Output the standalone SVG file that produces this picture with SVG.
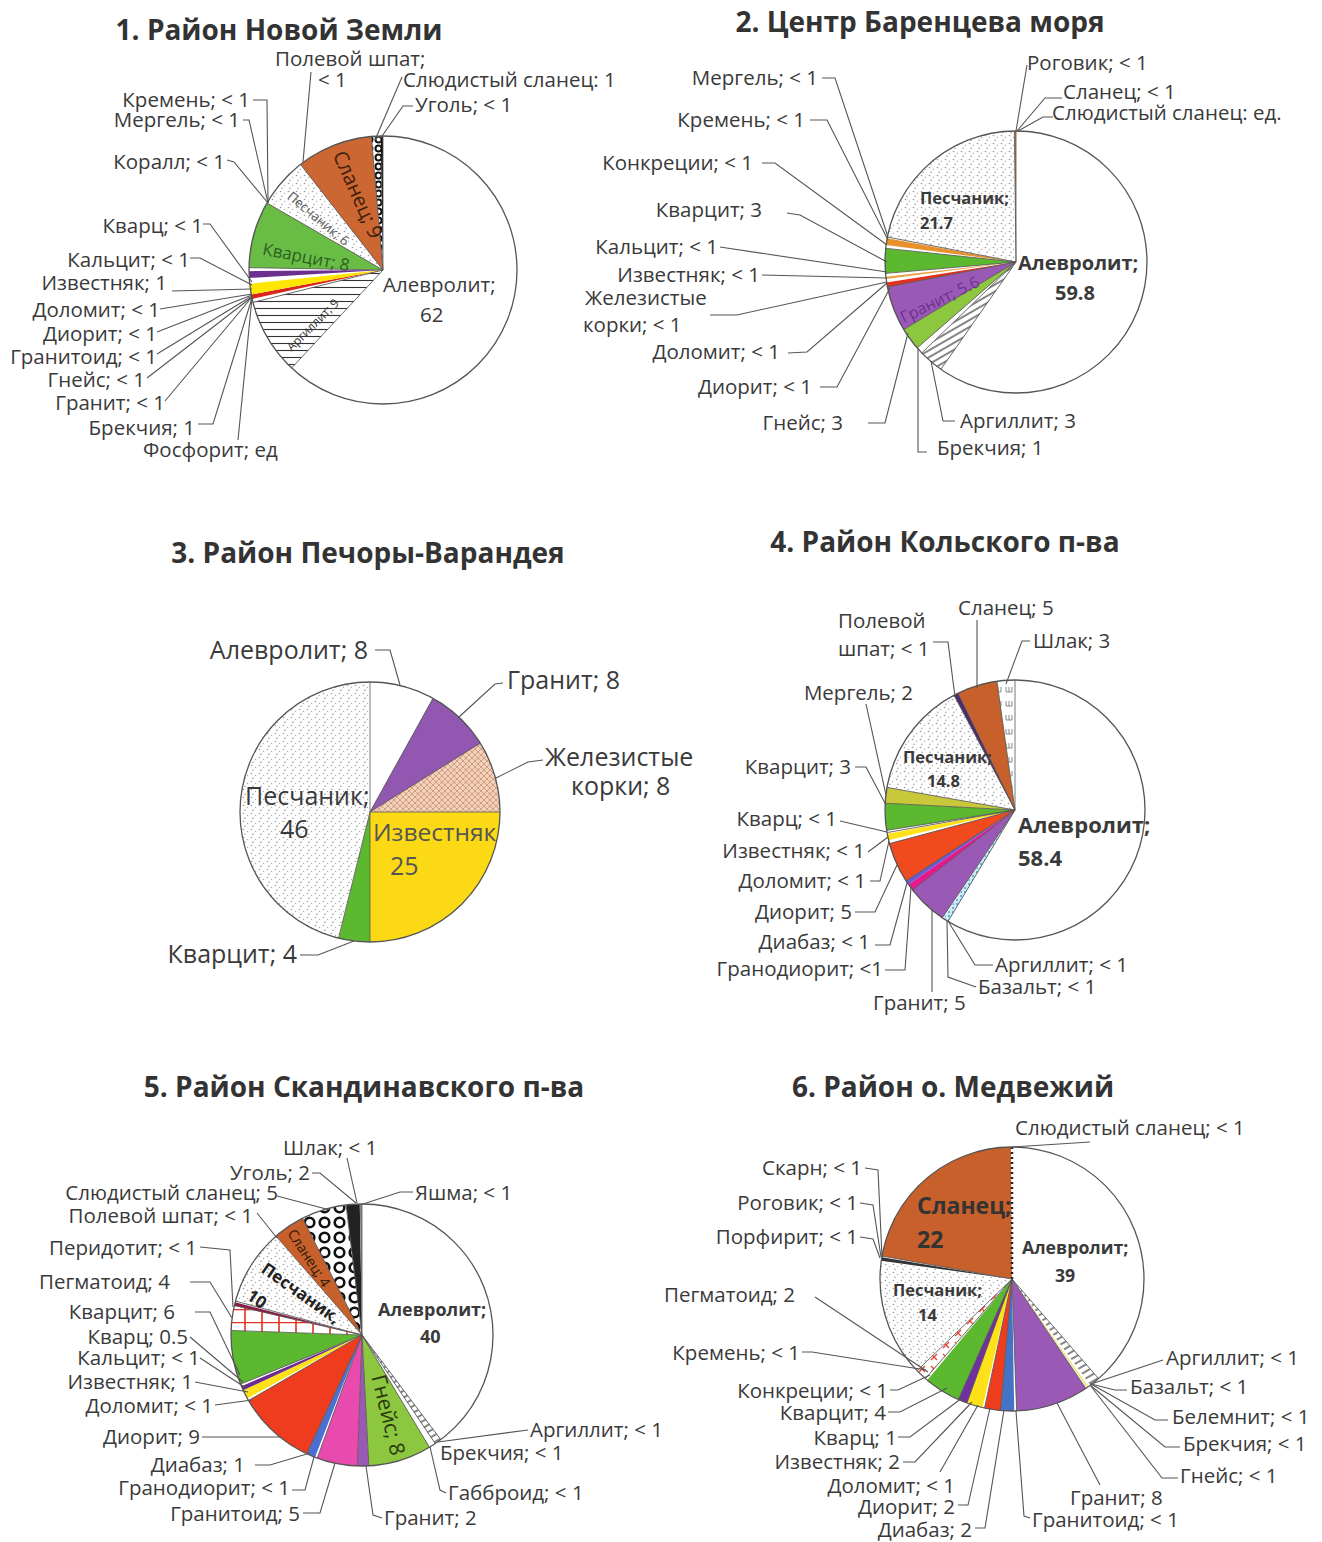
<svg xmlns="http://www.w3.org/2000/svg" width="1322" height="1542" viewBox="0 0 1322 1542">
<defs>
<style>
.t{font-family:"Open Sans","Noto Sans","DejaVu Sans",sans-serif;font-size:20.5px;fill:#3a3a3a}
.e{text-anchor:end}
.m{text-anchor:middle}
.b{font-weight:bold}
.ttl{font-family:"Open Sans","Noto Sans","DejaVu Sans",sans-serif;font-weight:bold;font-size:28px;text-anchor:middle;fill:#333}
.ld{fill:none;stroke:#555;stroke-width:1.1}
.rad{stroke:#555;stroke-width:0.8}
.ol{fill:none;stroke:#555;stroke-width:1.3}
.s{fill:none}
</style>
<pattern id="dots" width="8" height="8" patternUnits="userSpaceOnUse">
<rect width="8" height="8" fill="#fff"/>
<circle cx="1.5" cy="1.5" r="0.8" fill="#9a9a9a"/>
<circle cx="5.5" cy="3.5" r="0.7" fill="#aaa"/>
<circle cx="3" cy="6.3" r="0.8" fill="#999"/>
</pattern>
<pattern id="hatchH" width="6" height="7" patternUnits="userSpaceOnUse">
<rect width="6" height="7" fill="#fff"/>
<line x1="0" y1="3.5" x2="6" y2="3.5" stroke="#333" stroke-width="1.1"/>
</pattern>
<pattern id="hatchD" width="6" height="6" patternUnits="userSpaceOnUse" patternTransform="rotate(-30)">
<rect width="6" height="6" fill="#fff"/>
<line x1="0" y1="3" x2="6" y2="3" stroke="#333" stroke-width="1.2"/>
</pattern>
<pattern id="rings1" width="9" height="9" patternUnits="userSpaceOnUse">
<rect width="9" height="9" fill="#fff"/>
<circle cx="4.5" cy="4.5" r="3" fill="none" stroke="#111" stroke-width="2"/>
</pattern>
<pattern id="rings5" width="15" height="15" patternUnits="userSpaceOnUse">
<rect width="15" height="15" fill="#fff"/>
<circle cx="7.5" cy="7.5" r="4.8" fill="none" stroke="#111" stroke-width="2.6"/>
</pattern>
<pattern id="fe" width="6" height="6" patternUnits="userSpaceOnUse">
<rect width="6" height="6" fill="#f3d2bd"/>
<path d="M0 0 L6 6 M6 0 L0 6" stroke="#c98f6c" stroke-width="0.8"/>
</pattern>
<pattern id="grid" width="17" height="13" patternUnits="userSpaceOnUse">
<rect width="17" height="13" fill="#fff"/>
<path d="M0 0.5 H17 M2 0 V13" stroke="#e0301e" stroke-width="1.6" fill="none"/>
</pattern>
<pattern id="redx" width="12" height="12" patternUnits="userSpaceOnUse">
<rect width="12" height="12" fill="#fff"/>
<path d="M3 3 L9 9 M9 3 L3 9" stroke="#e8402a" stroke-width="1.3"/>
</pattern>
<pattern id="sh" width="11" height="14" patternUnits="userSpaceOnUse">
<rect width="11" height="14" fill="#fff"/>
<path d="M2 3 V8 H8 V3 M5 3 V8" stroke="#8a8a8a" stroke-width="1" fill="none"/>
</pattern>
<pattern id="ltblue" width="4" height="4" patternUnits="userSpaceOnUse">
<rect width="4" height="4" fill="#cfeaf5"/>
<circle cx="2" cy="2" r="1" fill="#3aa0d0"/>
</pattern>
</defs>
<rect width="1322" height="1542" fill="#fff"/>

<!-- Chart 1 -->
<g id="chart1">
<text class="ttl" x="279" y="40">1. Район Новой Земли</text>
<g transform="translate(383,270)">
<circle r="134" fill="#fff"/>
<circle class="s" r="67" pathLength="360" stroke="url(#hatchH)" stroke-width="134" stroke-dasharray="33 327" stroke-dashoffset="-133"/>
<circle class="s" r="67" pathLength="360" stroke="#d9261c" stroke-width="134" stroke-dasharray="2 358" stroke-dashoffset="-167.5"/>
<circle class="s" r="67" pathLength="360" stroke="#ffe600" stroke-width="134" stroke-dasharray="4.5 355.5" stroke-dashoffset="-169.5"/>
<circle class="s" r="67" pathLength="360" stroke="#6b2f8f" stroke-width="134" stroke-dasharray="3 357" stroke-dashoffset="-176.5"/>
<circle class="s" r="67" pathLength="360" stroke="#69bd45" stroke-width="134" stroke-dasharray="29 331" stroke-dashoffset="-181"/>
<circle class="s" r="67" pathLength="360" stroke="url(#dots)" stroke-width="134" stroke-dasharray="21 339" stroke-dashoffset="-211"/>
<circle class="s" r="67" pathLength="360" stroke="#cc6633" stroke-width="134" stroke-dasharray="33 327" stroke-dashoffset="-232"/>
<circle class="s" r="67" pathLength="360" stroke="url(#rings1)" stroke-width="134" stroke-dasharray="4 356" stroke-dashoffset="-265"/>
<circle class="s" r="67" pathLength="360" stroke="#111" stroke-width="134" stroke-dasharray="1 359" stroke-dashoffset="-269"/>
<line class="rad" y2="-134"/>
<line class="rad" y2="-134" transform="rotate(223)"/>
<line class="rad" y2="-134" transform="rotate(256)"/>
<line class="rad" y2="-134" transform="rotate(271)"/>
<line class="rad" y2="-134" transform="rotate(300)"/>
<line class="rad" y2="-134" transform="rotate(322)"/>
<line class="rad" y2="-134" transform="rotate(355)"/>
<circle class="ol" r="134"/>
</g>
<text class="t m" style="font-size:20px;fill:#3d1e0a" transform="translate(357,195) rotate(66)" y="6">Сланец; 9</text>
<text class="t m" style="font-size:13px;fill:#555" transform="translate(318,219) rotate(40)" y="4">Песчаник; 6</text>
<text class="t m" style="font-size:17px;fill:#2e5e22" transform="translate(306,258) rotate(11)" y="5">Кварцит; 8</text>
<text class="t m" style="font-size:12px;fill:#333" transform="translate(313,325) rotate(-45)" y="4">Аргиллит; 9</text>
<text class="t" x="383" y="292">Алевролит;</text>
<text class="t" x="420" y="322">62</text>
<text class="t e" x="250" y="107">Кремень; &lt; 1</text>
<text class="t e" x="240" y="127">Мергель; &lt; 1</text>
<text class="t e" x="225" y="169">Коралл; &lt; 1</text>
<text class="t e" x="203" y="233">Кварц; &lt; 1</text>
<text class="t e" x="190" y="267">Кальцит; &lt; 1</text>
<text class="t e" x="167" y="290">Известняк; 1</text>
<text class="t e" x="160" y="317">Доломит; &lt; 1</text>
<text class="t e" x="157" y="341">Диорит; &lt; 1</text>
<text class="t e" x="157" y="364">Гранитоид; &lt; 1</text>
<text class="t e" x="145" y="387">Гнейс; &lt; 1</text>
<text class="t e" x="165" y="410">Гранит; &lt; 1</text>
<text class="t e" x="195" y="435">Брекчия; 1</text>
<text class="t" x="143" y="457">Фосфорит; ед</text>
<text class="t" x="275" y="66">Полевой шпат;</text>
<text class="t" x="318" y="87">&lt; 1</text>
<text class="t" x="403" y="87">Слюдистый сланец: 1</text>
<text class="t" x="415" y="112">Уголь; &lt; 1</text>
</g>

<!-- Chart 2 -->
<g id="chart2">
<text class="ttl" x="920" y="32">2. Центр Баренцева моря</text>
<g transform="translate(1016,262)">
<circle r="131" fill="#fff"/>
<circle class="s" r="65.5" pathLength="360" stroke="url(#hatchD)" stroke-width="131" stroke-dasharray="11 349" stroke-dashoffset="-125"/>
<circle class="s" r="65.5" pathLength="360" stroke="#8dc63f" stroke-width="131" stroke-dasharray="10 350" stroke-dashoffset="-139"/>
<circle class="s" r="65.5" pathLength="360" stroke="#9b59b6" stroke-width="131" stroke-dasharray="20 340" stroke-dashoffset="-149"/>
<circle class="s" r="65.5" pathLength="360" stroke="#e0301e" stroke-width="131" stroke-dasharray="2 358" stroke-dashoffset="-169"/>
<circle class="s" r="65.5" pathLength="360" stroke="#e8a040" stroke-width="131" stroke-dasharray="1 359" stroke-dashoffset="-172.5"/>
<circle class="s" r="65.5" pathLength="360" stroke="#5cb82e" stroke-width="131" stroke-dasharray="11 349" stroke-dashoffset="-175"/>
<circle class="s" r="65.5" pathLength="360" stroke="#e8912a" stroke-width="131" stroke-dasharray="3 357" stroke-dashoffset="-187.5"/>
<circle class="s" r="65.5" pathLength="360" stroke="url(#dots)" stroke-width="131" stroke-dasharray="78.3 281.7" stroke-dashoffset="-191"/>
<circle class="s" r="65.5" pathLength="360" stroke="#c87030" stroke-width="131" stroke-dasharray="0.7 359.3" stroke-dashoffset="-269.3"/>
<line class="rad" y2="-131"/>
<line class="rad" y2="-131" transform="rotate(215)"/>
<line class="rad" y2="-131" transform="rotate(226)"/>
<line class="rad" y2="-131" transform="rotate(229)"/>
<line class="rad" y2="-131" transform="rotate(239)"/>
<line class="rad" y2="-131" transform="rotate(259)"/>
<line class="rad" y2="-131" transform="rotate(265)"/>
<line class="rad" y2="-131" transform="rotate(276)"/>
<line class="rad" y2="-131" transform="rotate(281)"/>
<line class="rad" y2="-131" transform="rotate(359.3)"/>
<circle class="ol" r="131"/>
</g>
<text class="t b" style="font-size:16.5px" x="920" y="204">Песчаник;</text>
<text class="t b" style="font-size:16.5px" x="920" y="229">21.7</text>
<text class="t b" style="font-size:20px" x="1018" y="270">Алевролит;</text>
<text class="t b" style="font-size:20px" x="1055" y="300">59.8</text>
<text class="t m" style="font-size:16px;fill:#6a3290" transform="translate(940,300) rotate(-26)" y="5">Гранит; 5.6</text>
<text class="t e" x="818" y="85">Мергель; &lt; 1</text>
<text class="t e" x="805" y="127">Кремень; &lt; 1</text>
<text class="t e" x="753" y="170">Конкреции; &lt; 1</text>
<text class="t e" x="762" y="217">Кварцит; 3</text>
<text class="t e" x="718" y="254">Кальцит; &lt; 1</text>
<text class="t e" x="760" y="282">Известняк; &lt; 1</text>
<text class="t" x="585" y="305">Железистые</text>
<text class="t" x="583" y="332">корки; &lt; 1</text>
<text class="t e" x="780" y="359">Доломит; &lt; 1</text>
<text class="t e" x="812" y="394">Диорит; &lt; 1</text>
<text class="t e" x="843" y="430">Гнейс; 3</text>
<text class="t" x="937" y="455">Брекчия; 1</text>
<text class="t" x="960" y="428">Аргиллит; 3</text>
<text class="t" x="1027" y="70">Роговик; &lt; 1</text>
<text class="t" x="1063" y="99">Сланец; &lt; 1</text>
<text class="t" x="1052" y="120">Слюдистый сланец: ед.</text>
</g>

<!-- Chart 3 -->
<g id="chart3">
<text class="ttl" x="368" y="563">3. Район Печоры-Варандея</text>
<g transform="translate(370,812)">
<circle r="130" fill="#fff"/>
<circle class="s" r="65" pathLength="360" stroke="#9257b0" stroke-width="130" stroke-dasharray="29 331" stroke-dashoffset="61"/>
<circle class="s" r="65" pathLength="360" stroke="url(#fe)" stroke-width="130" stroke-dasharray="32 328" stroke-dashoffset="32"/>
<circle class="s" r="65" pathLength="360" stroke="#fbd914" stroke-width="130" stroke-dasharray="90 270" stroke-dashoffset="0"/>
<circle class="s" r="65" pathLength="360" stroke="#5cb82e" stroke-width="130" stroke-dasharray="14 346" stroke-dashoffset="-90"/>
<circle class="s" r="65" pathLength="360" stroke="url(#dots)" stroke-width="130" stroke-dasharray="166 194" stroke-dashoffset="-104"/>
<line class="rad" y2="-130"/>
<line class="rad" y2="-130" transform="rotate(29)"/>
<line class="rad" y2="-130" transform="rotate(58)"/>
<line class="rad" y2="-130" transform="rotate(90)"/>
<line class="rad" y2="-130" transform="rotate(180)"/>
<line class="rad" y2="-130" transform="rotate(194)"/>
<circle class="ol" r="130"/>
</g>
<text class="t" style="font-size:25px" x="245" y="805">Песчаник;</text>
<text class="t" style="font-size:25px" x="280" y="838">46</text>
<text class="t" style="font-size:24.5px;fill:#555" x="373" y="841">Известняк</text>
<text class="t" style="font-size:25px;fill:#555" x="390" y="875">25</text>
<text class="t e" style="font-size:25px" x="368" y="659">Алевролит; 8</text>
<text class="t" style="font-size:25px" x="507" y="689">Гранит; 8</text>
<text class="t" style="font-size:25px" x="545" y="766">Железистые</text>
<text class="t" style="font-size:25px" x="571" y="795">корки; 8</text>
<text class="t e" style="font-size:25px" x="297" y="963">Кварцит; 4</text>
</g>

<!-- Chart 4 -->
<g id="chart4">
<text class="ttl" x="945" y="552">4. Район Кольского п-ва</text>
<g transform="translate(1015,810)">
<circle r="130" fill="#fff"/>
<circle class="s" r="65" pathLength="360" stroke="url(#ltblue)" stroke-width="130" stroke-dasharray="2.5 357.5" stroke-dashoffset="-121"/>
<circle class="s" r="65" pathLength="360" stroke="#9b59b6" stroke-width="130" stroke-dasharray="18 342" stroke-dashoffset="-124"/>
<circle class="s" r="65" pathLength="360" stroke="#e6198c" stroke-width="130" stroke-dasharray="3 357" stroke-dashoffset="-142"/>
<circle class="s" r="65" pathLength="360" stroke="#6a5acd" stroke-width="130" stroke-dasharray="2 358" stroke-dashoffset="-145"/>
<circle class="s" r="65" pathLength="360" stroke="#f04a1e" stroke-width="130" stroke-dasharray="18 342" stroke-dashoffset="-147"/>
<circle class="s" r="65" pathLength="360" stroke="#ffe11a" stroke-width="130" stroke-dasharray="3 357" stroke-dashoffset="-166.5"/>
<circle class="s" r="65" pathLength="360" stroke="#5cb82e" stroke-width="130" stroke-dasharray="12 348" stroke-dashoffset="-171"/>
<circle class="s" r="65" pathLength="360" stroke="#c9c83a" stroke-width="130" stroke-dasharray="7 353" stroke-dashoffset="-183"/>
<circle class="s" r="65" pathLength="360" stroke="url(#dots)" stroke-width="130" stroke-dasharray="52 308" stroke-dashoffset="-190"/>
<circle class="s" r="65" pathLength="360" stroke="#4b2a6b" stroke-width="130" stroke-dasharray="2 358" stroke-dashoffset="-242"/>
<circle class="s" r="65" pathLength="360" stroke="#c8602b" stroke-width="130" stroke-dasharray="18 342" stroke-dashoffset="-244"/>
<circle class="s" r="65" pathLength="360" stroke="url(#sh)" stroke-width="130" stroke-dasharray="8 352" stroke-dashoffset="-262"/>
<line class="rad" y2="-130"/>
<line class="rad" y2="-130" transform="rotate(211)"/>
<line class="rad" y2="-130" transform="rotate(214)"/>
<line class="rad" y2="-130" transform="rotate(232)"/>
<line class="rad" y2="-130" transform="rotate(237)"/>
<line class="rad" y2="-130" transform="rotate(255)"/>
<line class="rad" y2="-130" transform="rotate(260)"/>
<line class="rad" y2="-130" transform="rotate(261)"/>
<line class="rad" y2="-130" transform="rotate(273)"/>
<line class="rad" y2="-130" transform="rotate(280)"/>
<line class="rad" y2="-130" transform="rotate(332)"/>
<line class="rad" y2="-130" transform="rotate(334)"/>
<line class="rad" y2="-130" transform="rotate(352)"/>
<circle class="ol" r="130"/>
</g>
<text class="t b" style="font-size:16.5px" x="903" y="763">Песчаник;</text>
<text class="t b" style="font-size:16.5px" x="927" y="787">14.8</text>
<text class="t b" style="font-size:22px" x="1018" y="833">Алевролит;</text>
<text class="t b" style="font-size:22px" x="1018" y="866">58.4</text>
<text class="t" x="958" y="615">Сланец; 5</text>
<text class="t" x="838" y="628">Полевой</text>
<text class="t" x="838" y="656">шпат; &lt; 1</text>
<text class="t" x="1033" y="648">Шлак; 3</text>
<text class="t e" x="913" y="700">Мергель; 2</text>
<text class="t e" x="851" y="774">Кварцит; 3</text>
<text class="t e" x="837" y="826">Кварц; &lt; 1</text>
<text class="t e" x="865" y="858">Известняк; &lt; 1</text>
<text class="t e" x="866" y="888">Доломит; &lt; 1</text>
<text class="t e" x="852" y="919">Диорит; 5</text>
<text class="t e" x="870" y="949">Диабаз; &lt; 1</text>
<text class="t e" x="883" y="976">Гранодиорит; &lt;1</text>
<text class="t" x="873" y="1010">Гранит; 5</text>
<text class="t" x="995" y="972">Аргиллит; &lt; 1</text>
<text class="t" x="978" y="994">Базальт; &lt; 1</text>
</g>

<!-- Chart 5 -->
<g id="chart5">
<text class="ttl" x="364" y="1097">5. Район Скандинавского п-ва</text>
<g transform="translate(362,1335)">
<circle r="131" fill="#fff"/>
<circle class="s" r="65.5" pathLength="360" stroke="url(#hatchD)" stroke-width="131" stroke-dasharray="3 357" stroke-dashoffset="-53"/>
<circle class="s" r="65.5" pathLength="360" stroke="#8dc63f" stroke-width="131" stroke-dasharray="28 332" stroke-dashoffset="-59"/>
<circle class="s" r="65.5" pathLength="360" stroke="#9b59b6" stroke-width="131" stroke-dasharray="5 355" stroke-dashoffset="-87"/>
<circle class="s" r="65.5" pathLength="360" stroke="#e84aad" stroke-width="131" stroke-dasharray="18 342" stroke-dashoffset="-92"/>
<circle class="s" r="65.5" pathLength="360" stroke="#4a6fd0" stroke-width="131" stroke-dasharray="4 356" stroke-dashoffset="-111"/>
<circle class="s" r="65.5" pathLength="360" stroke="#f03c1e" stroke-width="131" stroke-dasharray="35 325" stroke-dashoffset="-115"/>
<circle class="s" r="65.5" pathLength="360" stroke="#ffe11a" stroke-width="131" stroke-dasharray="4 356" stroke-dashoffset="-151"/>
<circle class="s" r="65.5" pathLength="360" stroke="#6a2c91" stroke-width="131" stroke-dasharray="2 358" stroke-dashoffset="-155"/>
<circle class="s" r="65.5" pathLength="360" stroke="#5cb82e" stroke-width="131" stroke-dasharray="24 336" stroke-dashoffset="-158"/>
<circle class="s" r="65.5" pathLength="360" stroke="url(#grid)" stroke-width="131" stroke-dasharray="11 349" stroke-dashoffset="-182"/>
<circle class="s" r="65.5" pathLength="360" stroke="#8b1a4a" stroke-width="131" stroke-dasharray="1.5 358.5" stroke-dashoffset="-193"/>
<circle class="s" r="65.5" pathLength="360" stroke="url(#dots)" stroke-width="131" stroke-dasharray="34 326" stroke-dashoffset="-195"/>
<circle class="s" r="65.5" pathLength="360" stroke="#c8602b" stroke-width="131" stroke-dasharray="14 346" stroke-dashoffset="-229"/>
<circle class="s" r="65.5" pathLength="360" stroke="url(#rings5)" stroke-width="131" stroke-dasharray="20 340" stroke-dashoffset="-243"/>
<circle class="s" r="65.5" pathLength="360" stroke="#222" stroke-width="131" stroke-dasharray="6 354" stroke-dashoffset="-263"/>
<circle class="s" r="65.5" pathLength="360" stroke="#888" stroke-width="131" stroke-dasharray="1 359" stroke-dashoffset="-269"/>
<line class="rad" y2="-131"/>
<line class="rad" y2="-131" transform="rotate(143)"/>
<line class="rad" y2="-131" transform="rotate(146)"/>
<line class="rad" y2="-131" transform="rotate(149)"/>
<line class="rad" y2="-131" transform="rotate(177)"/>
<line class="rad" y2="-131" transform="rotate(182)"/>
<line class="rad" y2="-131" transform="rotate(200)"/>
<line class="rad" y2="-131" transform="rotate(205)"/>
<line class="rad" y2="-131" transform="rotate(240)"/>
<line class="rad" y2="-131" transform="rotate(248)"/>
<line class="rad" y2="-131" transform="rotate(272)"/>
<line class="rad" y2="-131" transform="rotate(283)"/>
<line class="rad" y2="-131" transform="rotate(285)"/>
<line class="rad" y2="-131" transform="rotate(319)"/>
<line class="rad" y2="-131" transform="rotate(333)"/>
<line class="rad" y2="-131" transform="rotate(353)"/>
<circle class="ol" r="131"/>
</g>
<text class="t b" style="font-size:18px" x="378" y="1316">Алевролит;</text>
<text class="t b" style="font-size:18px" x="420" y="1343">40</text>
<text class="t b m" style="font-size:17px;fill:#222" transform="translate(301,1293) rotate(35)" y="6">Песчаник,</text>
<text class="t b m" style="font-size:17px;fill:#222" transform="translate(257,1299) rotate(35)" y="6">10</text>
<text class="t m" style="font-size:14px;fill:#2a1a0a" transform="translate(309,1258) rotate(57)" y="5">Сланец; 4</text>
<text class="t m" style="font-size:21px;fill:#2a3a10" transform="translate(388,1415) rotate(76)" y="7">Гнейс; 8</text>
<text class="t" x="283" y="1155">Шлак; &lt; 1</text>
<text class="t e" x="310" y="1180">Уголь; 2</text>
<text class="t e" x="278" y="1200">Слюдистый сланец; 5</text>
<text class="t e" x="253" y="1223">Полевой шпат; &lt; 1</text>
<text class="t e" x="197" y="1255">Перидотит; &lt; 1</text>
<text class="t e" x="170" y="1289">Пегматоид; 4</text>
<text class="t e" x="175" y="1319">Кварцит; 6</text>
<text class="t e" x="188" y="1344">Кварц; 0.5</text>
<text class="t e" x="200" y="1365">Кальцит; &lt; 1</text>
<text class="t e" x="193" y="1389">Известняк; 1</text>
<text class="t e" x="213" y="1413">Доломит; &lt; 1</text>
<text class="t e" x="200" y="1444">Диорит; 9</text>
<text class="t e" x="245" y="1472">Диабаз; 1</text>
<text class="t e" x="290" y="1495">Гранодиорит; &lt; 1</text>
<text class="t e" x="300" y="1521">Гранитоид; 5</text>
<text class="t" x="384" y="1525">Гранит; 2</text>
<text class="t" x="448" y="1500">Габброид; &lt; 1</text>
<text class="t" x="440" y="1460">Брекчия; &lt; 1</text>
<text class="t" x="530" y="1437">Аргиллит; &lt; 1</text>
<text class="t" x="415" y="1200">Яшма; &lt; 1</text>
</g>

<!-- Chart 6 -->
<g id="chart6">
<text class="ttl" x="953" y="1097">6. Район о. Медвежий</text>
<g transform="translate(1012,1279)">
<circle r="132" fill="#fff"/>
<circle class="s" r="66" pathLength="360" stroke="url(#hatchD)" stroke-width="132" stroke-dasharray="4.5 355.5" stroke-dashoffset="-49"/>
<circle class="s" r="66" pathLength="360" stroke="#f0e68c" stroke-width="132" stroke-dasharray="1 359" stroke-dashoffset="-54.5"/>
<circle class="s" r="66" pathLength="360" stroke="#9b59b6" stroke-width="132" stroke-dasharray="32 328" stroke-dashoffset="-56"/>
<circle class="s" r="66" pathLength="360" stroke="#4472c4" stroke-width="132" stroke-dasharray="6 354" stroke-dashoffset="-89"/>
<circle class="s" r="66" pathLength="360" stroke="#f03c1e" stroke-width="132" stroke-dasharray="7 353" stroke-dashoffset="-95"/>
<circle class="s" r="66" pathLength="360" stroke="#ffe11a" stroke-width="132" stroke-dasharray="7 353" stroke-dashoffset="-103"/>
<circle class="s" r="66" pathLength="360" stroke="#7030a0" stroke-width="132" stroke-dasharray="4 356" stroke-dashoffset="-110"/>
<circle class="s" r="66" pathLength="360" stroke="#5cb82e" stroke-width="132" stroke-dasharray="16 344" stroke-dashoffset="-114"/>
<circle class="s" r="66" pathLength="360" stroke="url(#redx)" stroke-width="132" stroke-dasharray="5 355" stroke-dashoffset="-131"/>
<circle class="s" r="66" pathLength="360" stroke="url(#dots)" stroke-width="132" stroke-dasharray="52 308" stroke-dashoffset="-136"/>
<circle class="s" r="66" pathLength="360" stroke="#333" stroke-width="132" stroke-dasharray="1.5 358.5" stroke-dashoffset="-188"/>
<circle class="s" r="66" pathLength="360" stroke="#c8602b" stroke-width="132" stroke-dasharray="79.5 280.5" stroke-dashoffset="-190"/>
<line y2="-132" stroke="#222" stroke-width="2.5" stroke-dasharray="2 3"/>
<line class="rad" y2="-132" transform="rotate(139)"/>
<line class="rad" y2="-132" transform="rotate(146)"/>
<line class="rad" y2="-132" transform="rotate(178)"/>
<line class="rad" y2="-132" transform="rotate(185)"/>
<line class="rad" y2="-132" transform="rotate(192)"/>
<line class="rad" y2="-132" transform="rotate(200)"/>
<line class="rad" y2="-132" transform="rotate(204)"/>
<line class="rad" y2="-132" transform="rotate(221)"/>
<line class="rad" y2="-132" transform="rotate(226)"/>
<line class="rad" y2="-132" transform="rotate(280)"/>
<circle class="ol" r="132"/>
</g>
<text class="t b" style="font-size:23px;fill:#333" x="917" y="1214">Сланец;</text>
<text class="t b" style="font-size:23px;fill:#333" x="917" y="1248">22</text>
<text class="t b" style="font-size:16.5px" x="893" y="1296">Песчаник;</text>
<text class="t b" style="font-size:16.5px" x="918" y="1321">14</text>
<text class="t b" style="font-size:17.7px" x="1022" y="1254">Алевролит;</text>
<text class="t b" style="font-size:17.7px" x="1055" y="1282">39</text>
<text class="t" x="1015" y="1135">Слюдистый сланец; &lt; 1</text>
<text class="t e" x="862" y="1175">Скарн; &lt; 1</text>
<text class="t e" x="858" y="1210">Роговик; &lt; 1</text>
<text class="t e" x="858" y="1244">Порфирит; &lt; 1</text>
<text class="t e" x="795" y="1302">Пегматоид; 2</text>
<text class="t e" x="800" y="1360">Кремень; &lt; 1</text>
<text class="t e" x="888" y="1398">Конкреции; &lt; 1</text>
<text class="t e" x="886" y="1420">Кварцит; 4</text>
<text class="t e" x="897" y="1445">Кварц; 1</text>
<text class="t e" x="900" y="1469">Известняк; 2</text>
<text class="t e" x="955" y="1493">Доломит; &lt; 1</text>
<text class="t e" x="955" y="1514">Диорит; 2</text>
<text class="t e" x="972" y="1537">Диабаз; 2</text>
<text class="t" x="1032" y="1527">Гранитоид; &lt; 1</text>
<text class="t" x="1070" y="1505">Гранит; 8</text>
<text class="t" x="1180" y="1483">Гнейс; &lt; 1</text>
<text class="t" x="1183" y="1451">Брекчия; &lt; 1</text>
<text class="t" x="1172" y="1424">Белемнит; &lt; 1</text>
<text class="t" x="1130" y="1394">Базальт; &lt; 1</text>
<text class="t" x="1166" y="1365">Аргиллит; &lt; 1</text>
</g>

<!-- Connectors -->
<g id="connectors" class="ld">
<polyline points="253,100 267,100 268,203"/>
<polyline points="243,120 249,120 268,203"/>
<polyline points="227,160 234,162 268,203"/>
<polyline points="203,224 210,224 252,282"/>
<polyline points="190,258 200,258 252,285"/>
<polyline points="172,291 252,289"/>
<polyline points="160,309 252,294"/>
<polyline points="157,332 252,295"/>
<polyline points="157,354 252,296"/>
<polyline points="147,378 252,297"/>
<polyline points="165,401 252,297"/>
<polyline points="198,424 213,424 252,298"/>
<polyline points="238,440 252,298"/>
<polyline points="311,72 303,162"/>
<polyline points="402,77 375,140"/>
<polyline points="413,106 403,106 380,139"/>

<polyline points="822,78 835,78 888,237"/>
<polyline points="810,120 827,120 888,240"/>
<polyline points="762,163 775,163 887,245"/>
<polyline points="787,213 800,215 887,262"/>
<polyline points="720,247 887,272"/>
<polyline points="762,275 887,278"/>
<polyline points="710,315 737,315 887,282"/>
<polyline points="788,353 807,352 887,283"/>
<polyline points="820,387 837,387 890,288"/>
<polyline points="868,423 885,423 908,333"/>
<polyline points="927,452 918,452 918,348"/>
<polyline points="955,421 943,421 931,361"/>
<polyline points="1027,65 1016,131"/>
<polyline points="1062,98 1045,98 1017,131"/>
<polyline points="1053,117 1043,117 1018,131"/>

<polyline points="375,650 390,650 400,685"/>
<polyline points="503,683 495,684 459,717"/>
<polyline points="543,760 528,762 496,778"/>
<polyline points="300,955 318,955 354,941"/>

<polyline points="977,620 977,688"/>
<polyline points="933,642 948,642 955,697"/>
<polyline points="1030,641 1022,641 1006,684"/>
<polyline points="866,704 886,795"/>
<polyline points="855,767 866,767 886,805"/>
<polyline points="840,821 887,832"/>
<polyline points="868,852 888,837"/>
<polyline points="870,881 880,881 889,841"/>
<polyline points="855,912 875,912 897,865"/>
<polyline points="875,945 890,945 907,883"/>
<polyline points="885,970 905,970 911,887"/>
<polyline points="932,992 932,910"/>
<polyline points="993,965 975,965 948,921"/>
<polyline points="976,987 948,977 947,921"/>

<polyline points="347,1158 357,1203"/>
<polyline points="312,1173 320,1173 356,1203"/>
<polyline points="277,1196 330,1210"/>
<polyline points="257,1213 277,1238"/>
<polyline points="200,1247 230,1250 233,1307"/>
<polyline points="190,1282 210,1282 232,1318"/>
<polyline points="195,1312 210,1312 240,1375"/>
<polyline points="190,1337 243,1382"/>
<polyline points="200,1358 246,1388"/>
<polyline points="195,1382 248,1392"/>
<polyline points="215,1405 252,1400"/>
<polyline points="202,1437 281,1437"/>
<polyline points="255,1465 270,1465 310,1453"/>
<polyline points="292,1490 305,1490 314,1457"/>
<polyline points="303,1513 320,1513 335,1463"/>
<polyline points="382,1518 373,1515 366,1466"/>
<polyline points="446,1493 440,1490 430,1447"/>
<polyline points="528,1430 438,1442"/>
<polyline points="413,1192 400,1192 363,1204"/>

<polyline points="1013,1147 1090,1142"/>
<polyline points="865,1168 878,1170 882,1257"/>
<polyline points="860,1203 873,1205 881,1257"/>
<polyline points="860,1237 873,1239 880,1258"/>
<polyline points="815,1297 928,1372"/>
<polyline points="802,1352 812,1352 926,1370"/>
<polyline points="890,1390 898,1390 930,1375"/>
<polyline points="888,1412 900,1412 947,1388"/>
<polyline points="898,1437 910,1437 962,1398"/>
<polyline points="903,1462 915,1462 972,1402"/>
<polyline points="940,1472 978,1405"/>
<polyline points="958,1505 968,1505 990,1408"/>
<polyline points="975,1528 985,1528 1004,1410"/>
<polyline points="1030,1518 1024,1516 1016,1411"/>
<polyline points="1100,1485 1057,1403"/>
<polyline points="1178,1478 1162,1478 1090,1385"/>
<polyline points="1180,1447 1165,1447 1090,1385"/>
<polyline points="1168,1420 1155,1420 1091,1384"/>
<polyline points="1127,1390 1115,1390 1091,1384"/>
<polyline points="1163,1360 1091,1384"/>
</g>
</svg>
